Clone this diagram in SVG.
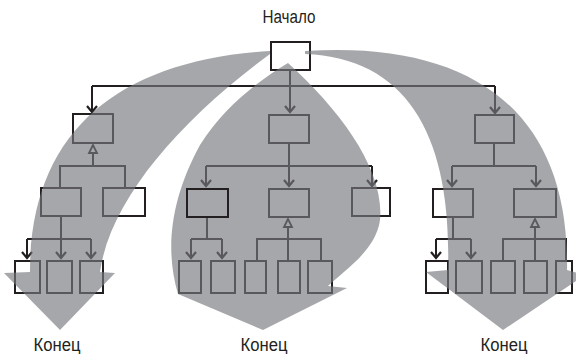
<svg xmlns="http://www.w3.org/2000/svg" width="576" height="354" viewBox="0 0 576 354">
<defs>
<style>
.b{fill:#fff;stroke:#231f20;stroke-width:2}
.h{fill:none;stroke:#231f20;stroke-width:2}
.c{fill:none;stroke:#231f20;stroke-width:2}
.t{font-family:"Liberation Sans",Arial,sans-serif;font-size:18px;fill:#231f20}
.g{fill:#77787c;opacity:0.65}
</style>
<marker id="ar" viewBox="-8 -7 10 14" refX="0" refY="0" markerWidth="10" markerHeight="14" markerUnits="userSpaceOnUse" orient="auto">
<path d="M-6,-5 L0,0 L-6,5" fill="none" stroke="#231f20" stroke-width="2.2"/>
</marker>
<marker id="tr" viewBox="-10 -6 12 12" refX="0" refY="0" markerWidth="12" markerHeight="12" markerUnits="userSpaceOnUse" orient="auto">
<path d="M0,0 L-8,-4 L-8,4 Z" fill="#fff" stroke="#231f20" stroke-width="1.8" stroke-linejoin="miter"/>
</marker>
</defs>
<rect width="576" height="354" fill="#fff"/>
<text class="t" x="289" y="23" text-anchor="middle" textLength="53" lengthAdjust="spacingAndGlyphs">Начало</text>
<text class="t" x="57" y="351" text-anchor="middle" textLength="47" lengthAdjust="spacingAndGlyphs">Конец</text>
<text class="t" x="264" y="351" text-anchor="middle" textLength="47" lengthAdjust="spacingAndGlyphs">Конец</text>
<text class="t" x="504" y="351" text-anchor="middle" textLength="47" lengthAdjust="spacingAndGlyphs">Конец</text>
<g id="connectors">
<path class="c" d="M290,71 V112" marker-end="url(#ar)"/>
<path class="c" d="M92,86 H495"/>
<path class="c" d="M92,86 V112" marker-end="url(#ar)"/>
<path class="c" d="M495,86 V113" marker-end="url(#ar)"/>
<path class="c" d="M60,187 V166 H125 V187"/>
<path class="c" d="M93,166 V145" marker-end="url(#tr)"/>
<path class="c" d="M61,217 V239"/>
<path class="c" d="M27,239 H91"/>
<path class="c" d="M27,239 V258" marker-end="url(#ar)"/>
<path class="c" d="M61,239 V258" marker-end="url(#ar)"/>
<path class="c" d="M91,239 V258" marker-end="url(#ar)"/>
<path class="c" d="M289,143 V186" marker-end="url(#ar)"/>
<path class="c" d="M206,166 H372"/>
<path class="c" d="M206,166 V186" marker-end="url(#ar)"/>
<path class="c" d="M372,166 V186" marker-end="url(#ar)"/>
<path class="c" d="M207,218 V239 M191,239 H222"/>
<path class="c" d="M191,239 V258" marker-end="url(#ar)"/>
<path class="c" d="M222,239 V258" marker-end="url(#ar)"/>
<path class="c" d="M288,260 V219" marker-end="url(#tr)"/>
<path class="c" d="M257,260 V239 H321 V260"/>
<path class="c" d="M494,144 V166 M452,166 H536"/>
<path class="c" d="M452,166 V186" marker-end="url(#ar)"/>
<path class="c" d="M536,166 V186" marker-end="url(#ar)"/>
<path class="c" d="M453,218 V239 M436,239 H471"/>
<path class="c" d="M436,239 V258" marker-end="url(#ar)"/>
<path class="c" d="M471,239 V258" marker-end="url(#ar)"/>
<path class="c" d="M535,260 V219" marker-end="url(#tr)"/>
<path class="c" d="M503,260 V239 H566 V260"/>
</g>
<g id="start"><rect class="b" x="271" y="42" width="39" height="28"/></g>
<g id="l2">
<rect id="n-a" class="b" x="73" y="114" width="40" height="29"/>
<rect id="n-b" class="b" x="269" y="115" width="40" height="28"/>
<rect id="n-c" class="b" x="475" y="115" width="39" height="28"/>
</g>
<g id="l3">
<rect id="n-a1" class="b" x="41" y="188" width="40" height="28"/>
<rect id="n-a2" class="b" x="103" y="188" width="42" height="28"/>
<rect id="n-b1" class="b" x="187" y="189" width="41" height="28"/>
<rect id="n-b2" class="b" x="269" y="189" width="40" height="28"/>
<rect id="n-b3" class="b" x="352" y="188" width="38" height="28"/>
<rect id="n-c1" class="b" x="433" y="189" width="40" height="28"/>
<rect id="n-c2" class="b" x="514" y="189" width="42" height="28"/>
</g>
<g id="l4">
<rect class="b" x="15" y="261" width="25" height="32"/>
<rect class="b" x="47" y="261" width="25" height="32"/>
<rect class="b" x="80" y="261" width="23" height="32"/>
<rect class="b" x="179" y="261" width="22" height="32"/>
<rect class="b" x="211" y="261" width="24" height="32"/>
<rect class="b" x="245" y="261" width="21" height="32"/>
<rect class="b" x="278" y="261" width="22" height="32"/>
<rect class="b" x="308" y="261" width="24" height="32"/>
<rect class="b" x="426" y="261" width="22" height="32"/>
<rect class="b" x="456" y="261" width="26" height="32"/>
<rect class="b" x="491" y="261" width="24" height="32"/>
<rect class="b" x="524" y="261" width="23" height="32"/>
<rect class="b" x="556" y="261" width="16" height="32"/>
</g>
<g id="flows">
<path class="g" d="M270,51 C120,60 30,130 30,272 L4,273 L60,330 L115,273 L100,272 C110,200 180,120 270,54 Z"/>
<path class="g" d="M288,63 C340,110 385,170 380,220 C376,250 345,270 328,286 L347,288 L263,330 L178,294 C165,250 170,200 200,145 C225,105 260,80 288,63 Z"/>
<path class="g" d="M305,51 C470,40 570,110 567,270 L585,275 L503,330 L426,272 L448,270 C452,140 410,58 305,54 Z"/>
</g>
<g id="highlight"><rect class="h" x="187" y="189" width="41" height="28"/></g>
</svg>
